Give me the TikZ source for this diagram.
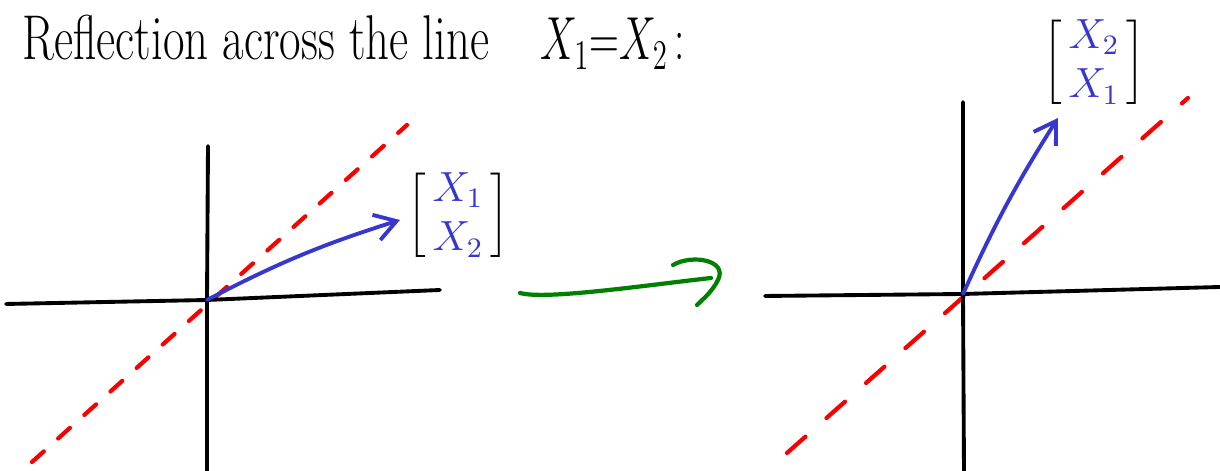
\documentclass[tikz,border=0pt]{standalone}
\usepackage{amsmath,amssymb}
\usetikzlibrary{matrix,arrows.meta,positioning}

\definecolor{penblue}{RGB}{55,55,205}
\definecolor{penred}{RGB}{250,0,0}
\definecolor{pengreen}{RGB}{0,128,0}

\tikzset{
  axis/.style={line width=1.1pt, black, line cap=round},
  mirror/.style={line width=1.2pt, penred, line cap=round, dash pattern=on 4.5pt off 5.5pt},
  vec/.style={line width=1.1pt, penblue, line cap=round, -{Straight Barb[length=6pt,width=7.5pt]}},
  map/.style={line width=1.2pt, pengreen, line cap=round},
  heading/.style={anchor=base west, inner sep=0pt, font=\fontsize{18}{20}\selectfont},
  vecmat/.style={matrix of math nodes,
                 inner sep=0pt,
                 row sep=3pt,
                 left delimiter={[},
                 right delimiter={]},
                 every left delimiter/.style={inner sep=0pt, xshift=-1.5pt},
                 every right delimiter/.style={inner sep=0pt, xshift=1.5pt},
                 nodes={inner sep=0.5pt, anchor=center, font=\fontsize{11.5}{13}\selectfont},
                 penblue}
}

\begin{document}
\begin{tikzpicture}[x=0.01cm, y=-0.01cm]
  \useasboundingbox (0,0) rectangle (1220,471);

  %--- Title
  \node[heading] (title) at (22,60) {\scalebox{0.74}[1]{Reflection across the line}};
  \node[heading] (rule) at (540,60) {\scalebox{0.68}[1]{$X_1{=}X_2\,{:}$}};

  %--- Left plane
  \coordinate (O1) at (207,300);
  \coordinate (L1) at (6,304);   \coordinate (R1) at (440,290);
  \coordinate (T1) at (208,146); \coordinate (B1) at (207,471);
  \coordinate (D1a) at (32,462); \coordinate (D1b) at (407,125);
  \coordinate (V1) at (400,220);
  \draw[mirror] (D1a) -- (D1b);
  \draw[axis] (L1) -- (O1) -- (R1);
  \draw[axis] (T1) -- (O1) -- (B1);
  \draw[vec] (O1) to[bend left=5] (V1);
  \matrix[vecmat] (v) at (458,215) {
    X_1 \\
    X_2 \\
  };

  %--- Green mapping arrow
  \coordinate (G1) at (520,293);
  \coordinate (G2) at (711,278);
  \draw[map] (G1) .. controls (545,300) and (640,286) .. (G2);
  \draw[map] (673,265) .. controls (692,254) and (728,260) .. (718,280)
             .. controls (712,292) and (703,299) .. (697,305);

  %--- Right plane
  \coordinate (O2) at (963,294);
  \coordinate (L2) at (765,296);  \coordinate (R2) at (1220,287);
  \coordinate (T2) at (963,102);  \coordinate (B2) at (964,471);
  \coordinate (D2a) at (787,453); \coordinate (D2b) at (1188,98);
  \coordinate (V2) at (1058,118);
  \draw[mirror, dash pattern=on 7pt off 8pt] (D2a) -- (D2b);
  \draw[axis] (L2) -- (O2) -- (R2);
  \draw[axis] (T2) -- (O2) -- (B2);
  \draw[vec] (O2) to[bend left=4] (V2);
  \matrix[vecmat] (w) at (1094,62) {
    X_2 \\
    X_1 \\
  };

\end{tikzpicture}
\end{document}
